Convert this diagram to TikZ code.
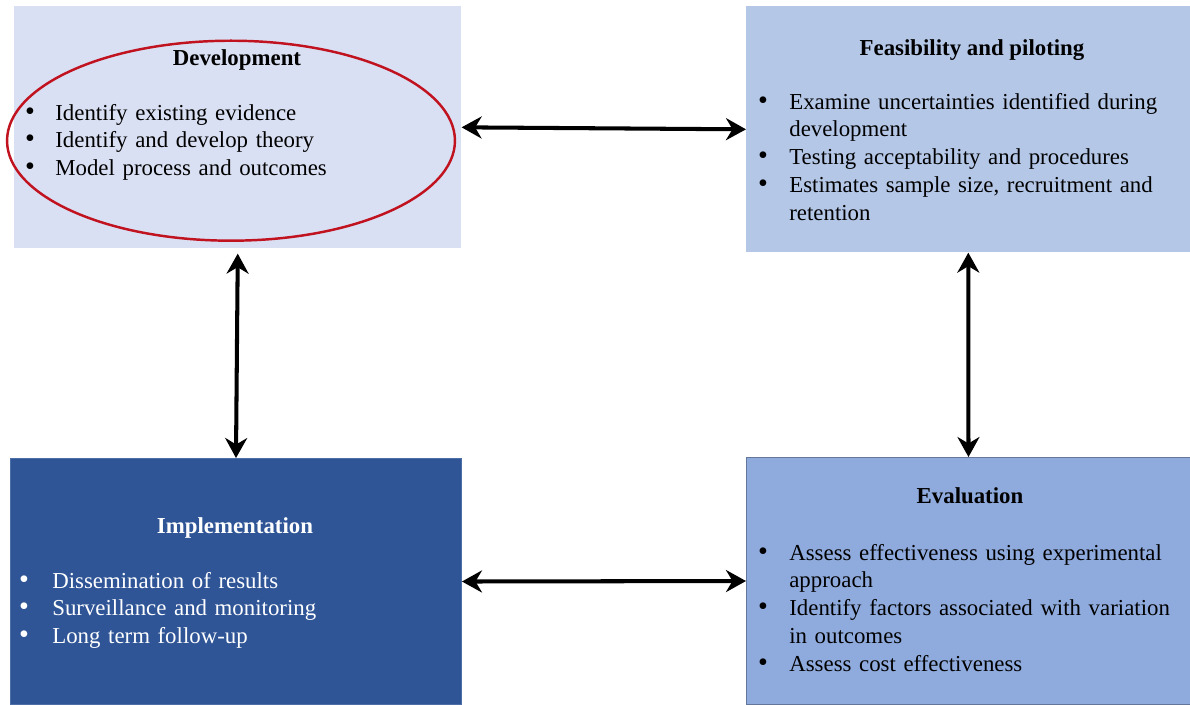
\documentclass[tikz,border=0pt]{standalone}
\usepackage{fontspec}
\setmainfont{Liberation Serif}
\usepackage{tikz}
\usetikzlibrary{
	arrows.meta,
	shapes,
	positioning
}

\definecolor{devblue}{HTML}{DAE0F3}
\definecolor{feasblue}{HTML}{B4C7E7}
\definecolor{evalblue}{HTML}{8FAADC}
\definecolor{implblue}{HTML}{2F5597}
\definecolor{ringred}{HTML}{C0121F}

\newcommand{\bitem}[2][0.64cm]{\hangindent=#1\hangafter=1\noindent\makebox[#1][l]{\hspace{0.5pt}{\fontsize{16}{16}\selectfont\textbullet}}#2\par}

\begin{document}
\begin{tikzpicture}[x=0.02cm, y=-0.02cm,
	stage/.style={rectangle, anchor=north west, inner sep=0pt},
	head/.style={anchor=base, inner sep=0pt, font=\fontsize{13}{15.9}\selectfont\bfseries},
	items/.style={anchor=base west, inner sep=0pt, align=left, font=\fontsize{13}{15.9}\selectfont},
	both/.style={{Stealth[length=0.4cm, width=0.44cm]}-{Stealth[length=0.4cm, width=0.44cm]}, line width=2.3pt}]

	\useasboundingbox (0,0) rectangle (1190,704);

	\node[stage, fill=devblue, minimum width=8.94cm, minimum height=4.84cm] (dev) at (14,6) {};
	\node[stage, fill=feasblue, minimum width=8.88cm, minimum height=4.92cm] (feas) at (746,6) {};
	\node[stage, fill=implblue, draw=implblue!85!white, line width=0.6pt, minimum width=9.02cm, minimum height=4.92cm] (impl) at (10,458) {};
	\node[stage, fill=evalblue, draw=evalblue!70!black, line width=0.6pt, minimum width=8.88cm, minimum height=4.94cm] (eval) at (746,457) {};

	\draw[ringred, line width=1.4pt] (231,140.7) ellipse [x radius=4.48cm, y radius=2cm];

	\node[head] (devhead) at (237,65) {Development};
	\node[head] (feashead) at (972,55) {Feasibility and piloting};
	\node[head, text=white] (implhead) at (235,533) {Implementation};
	\node[head] (evalhead) at (970,503) {Evaluation};

	\node[items, text width=8.6cm] (devlist) at (24,120) {%
		\bitem[0.62cm]{Identify existing evidence}
		\bitem[0.62cm]{Identify and develop theory}
		\bitem[0.62cm]{Model process and outcomes}};

	\node[items, text width=8.46cm] (feaslist) at (757,109) {%
		\bitem{Examine uncertainties identified during development}
		\bitem{Testing acceptability and procedures}
		\bitem{Estimates sample size, recruitment and retention}};

	\node[items, text width=8.7cm, text=white] (impllist) at (18,588) {%
		\bitem[0.68cm]{Dissemination of results}
		\bitem[0.68cm]{Surveillance and monitoring}
		\bitem[0.68cm]{Long term follow-up}};

	\node[items, text width=8.46cm] (evallist) at (757,560) {%
		\bitem{Assess effectiveness using experimental approach}
		\bitem{Identify factors associated with variation in outcomes}
		\bitem{Assess cost effectiveness}};

	\draw[both] (dev.east) -- (feas.west);
	\draw[both, shorten <=0.1cm] (dev.south) -- (impl.north);
	\draw[both] (feas.south) -- (eval.north);
	\draw[both] (impl.east) -- (eval.west);

\end{tikzpicture}
\end{document}
